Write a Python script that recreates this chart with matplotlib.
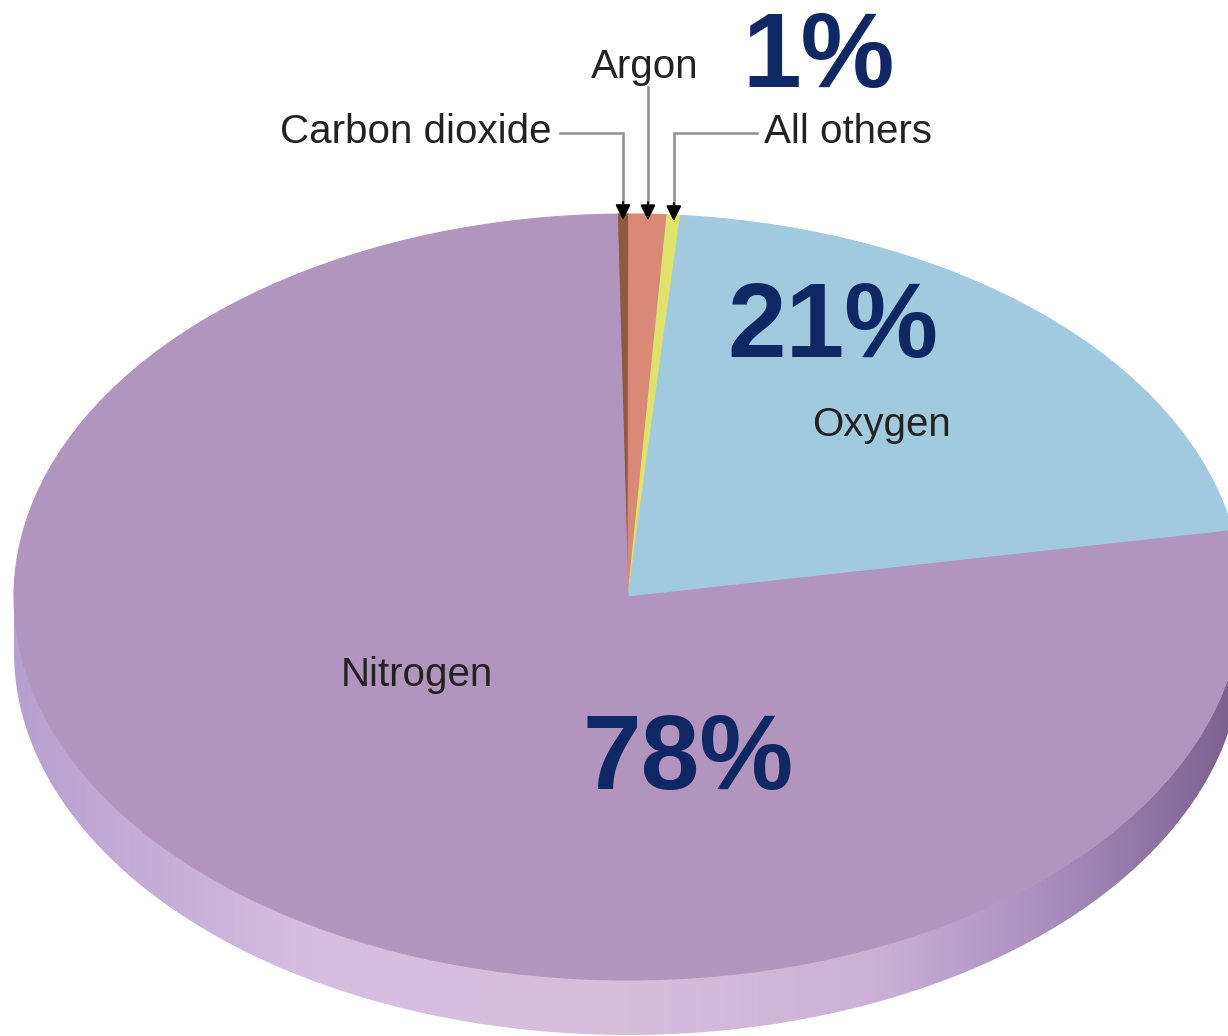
import matplotlib.pyplot as plt
import numpy as np
from matplotlib.colors import LinearSegmentedColormap
from matplotlib.patches import Polygon

GASES = ['Carbon dioxide', 'Argon', 'All others', 'Oxygen', 'Nitrogen']
SHARES = [0.3, 1.0, 0.35, 21, 78]
COLORS = ['#8c5a3e', '#d98a76', '#dfe36c', '#a2cadf', '#b195be']
BIG_LABELS = ['1%', '21%', '78%']

W, H = 1228, 1036
CX, CY = 628, 597      # centre of the top face, pixels
RX, RY = 614, 383      # semi-axes of the top face, pixels
DEPTH = 55             # thickness of the disc, pixels

NAVY = '#0f2863'
TEXT = '#222222'
LEADER = '#8f8f8f'


def at(px, py):
    # pixel position -> data position of the pie axes
    return (px - CX) / RX, (CY - py) / RY


fig = plt.figure(figsize=(W / 100, H / 100), dpi=100)
ax = fig.add_axes([0, 0, 1, 1])
ax.set_axis_off()

wedges, _ = ax.pie(SHARES, colors=COLORS, startangle=91, counterclock=False,
                   radius=1, wedgeprops=dict(linewidth=0.8))
for w in wedges:
    w.set_edgecolor(w.get_facecolor())
    w.set_zorder(2)

# side of the disc, shaded left to right
d = DEPTH / RY
t = np.linspace(np.pi, 2 * np.pi, 300)
rim = np.vstack([np.c_[np.cos(t), np.sin(t)],
                 np.c_[np.cos(t), np.sin(t) - d][::-1]])
side = Polygon(rim, closed=True, facecolor='none', edgecolor='none')
ax.add_patch(side)
side_cmap = LinearSegmentedColormap.from_list(
    'side', [(0.0, '#b7a0cf'), (0.25, '#d6bfdf'), (0.5, '#d8bedd'),
             (0.7, '#cbb2d6'), (0.85, '#a88cbd'), (1.0, '#7a5e8c')])
grad = np.linspace(0, 1, 512).reshape(1, -1)
im = ax.imshow(grad, cmap=side_cmap, extent=[-1, 1, -1 - d, 0],
               aspect='auto', zorder=1)
im.set_clip_path(side)

ax.set_aspect('auto')
ax.set_xlim(-CX / RX, (W - CX) / RX)
ax.set_ylim((CY - H) / RY, CY / RY)

# leader lines to the three thin slices
tips = []
for w in wedges[:3]:
    mid = np.radians((w.theta1 + w.theta2) / 2)
    tips.append((CX + RX * np.cos(mid), CY - RY * np.sin(mid) + 6))

paths = [
    [(560, 133), (tips[0][0], 133), (tips[0][0], tips[0][1] - 14)],
    [(tips[1][0], 87), (tips[1][0], tips[1][1] - 14)],
    [(757, 133), (tips[2][0], 133), (tips[2][0], tips[2][1] - 14)],
]
for path, (tx, ty) in zip(paths, tips):
    xs, ys = zip(*[at(px, py) for px, py in path])
    ax.plot(xs, ys, color=LEADER, lw=1.8, zorder=3, solid_joinstyle='miter')
    ax.annotate('', xy=at(tx, ty), xytext=at(tx, ty - 18),
                arrowprops=dict(arrowstyle='-|>,head_length=0.9,head_width=0.45',
                                color='black', lw=1.5, shrinkA=0, shrinkB=0),
                zorder=4)

font = 'Liberation Sans'
ax.text(*at(552, 132), GASES[0], ha='right', va='center', fontsize=29,
        color=TEXT, family=font)
ax.text(*at(645, 67), GASES[1], ha='center', va='center', fontsize=29,
        color=TEXT, family=font)
ax.text(*at(764, 132), GASES[2], ha='left', va='center', fontsize=29,
        color=TEXT, family=font)
ax.text(*at(882, 425), GASES[3], ha='center', va='center', fontsize=29,
        color=TEXT, family=font)
ax.text(*at(417, 675), GASES[4], ha='center', va='center', fontsize=29,
        color=TEXT, family=font)

for label, (px, py) in zip(BIG_LABELS, [(819, 60), (833, 330), (688, 762)]):
    ax.text(*at(px, py), label, ha='center', va='center', fontsize=76,
            fontweight='bold', color=NAVY, family=font, zorder=5)

fig.savefig('out.png', dpi=100)
